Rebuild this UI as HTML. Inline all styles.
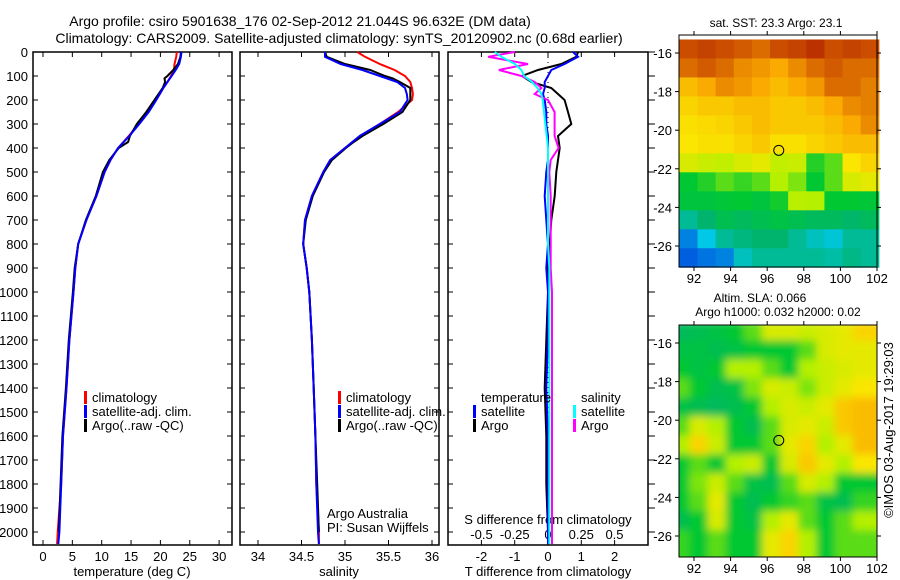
<!DOCTYPE html>
<html><head><meta charset="utf-8"><style>
body{margin:0;background:#fff}
svg{display:block;font-family:"Liberation Sans",sans-serif}
text{fill:#000}
</style></head><body>
<svg id="c" width="900" height="580" viewBox="0 0 900 580">
<text x="300" y="26" font-size="14" text-anchor="middle">Argo profile: csiro 5901638_176 02-Sep-2012 21.044S 96.632E (DM data)</text>
<text x="339" y="43" font-size="14" text-anchor="middle">Climatology: CARS2009. Satellite-adjusted climatology: synTS_20120902.nc (0.68d earlier)</text>
</svg>
<script>
const depths=[0,20,50,75,100,125,150,175,200,250,300,350,400,450,500,600,700,800,900,1000,1200,1400,1600,1800,2000,2050];
const tempClim=[22.8,22.7,22.4,22.3,21.8,21.2,20.5,19.9,19.2,17.9,16.3,14.6,12.8,11.5,10.5,9.1,7.4,6.0,5.5,5.2,4.5,4.0,3.4,3.1,2.5,2.4];
const tempSat=[23.6,23.5,23.2,22.6,21.9,21.2,20.5,19.9,19.3,18.0,16.4,14.7,12.8,11.5,10.5,9.1,7.4,6.0,5.5,5.2,4.5,4.0,3.4,3.1,2.8,2.6];
const argoDepths=[0,20,50,75,100,110,125,150,200,250,300,350,375,400,450,500,600,700,800,900,1000,1200,1400,1600,1800,2000];
const tempArgo=[23.5,23.4,23.0,22.2,21.2,20.7,20.8,20.4,19.0,17.6,16.0,14.8,14.5,12.9,11.3,10.2,9.0,7.3,6.0,5.4,5.1,4.4,3.9,3.3,3.0,2.7];
const salClim=[35.14,35.23,35.40,35.57,35.69,35.75,35.77,35.78,35.77,35.61,35.40,35.17,35.0,34.83,34.75,34.62,34.54,34.52,34.56,34.59,34.62,34.64,34.66,34.67,34.70,34.70];
const salSat=[34.77,34.77,34.95,35.20,35.40,35.60,35.69,35.71,35.72,35.63,35.40,35.17,35.0,34.83,34.75,34.62,34.54,34.52,34.56,34.59,34.62,34.64,34.66,34.67,34.69,34.70];
const salArgo=[34.77,34.79,35.0,35.29,35.46,35.55,35.63,35.75,35.75,35.66,35.44,35.20,35.10,35.01,34.85,34.76,34.63,34.55,34.52,34.56,34.59,34.62,34.64,34.66,34.68,34.70];
const tDiffSat=[0.75,0.9,0.5,0.1,0.0,-0.1,-0.1,-0.15,-0.1,-0.05,-0.05,0,0,0,-0.05,-0.1,-0.05,0,-0.05,0,0,-0.05,0,0,0,0];
const tDiffArgo=[0.9,0.85,0.4,-0.3,-0.78,-0.5,0.1,0.3,0.5,0.6,0.7,0.3,0.35,0.3,0.25,0.2,0.1,0.05,0,0,-0.05,-0.1,-0.05,-0.05,0,0];
const sDiffSat=[-0.4,-0.35,-0.25,-0.2,-0.18,-0.12,-0.08,-0.05,-0.04,-0.03,-0.02,-0.01,0,0,0,0,0,0,0.01,0.01,0.01,0.01,0.01,0.01,0.01,0.01];
const sDiffArgo=[-0.25,-0.45,-0.15,-0.37,-0.2,-0.1,-0.05,-0.1,0,0.05,0.05,0.05,0.08,0.02,0.01,0.02,0.02,0.02,0.02,0.03,0.03,0.03,0.03,0.03,0.03,0.03];
const depthTicks=[0,100,200,300,400,500,600,700,800,900,1000,1100,1200,1300,1400,1500,1600,1700,1800,1900,2000];
const tempTicks=[0,5,10,15,20,25,30];
const salTicks=[34,34.5,35,35.5,36];
const tDiffTicks=[-2,-1,0,1,2];
const sDiffTicks=[-0.5,-0.25,0,0.25,0.5];
const sDiffTickLabels=["-0.5","-0.25","0","0.25","0.5"];
const lonTicks=[92,94,96,98,100,102];
const latTicks=[-16,-18,-20,-22,-24,-26];
const argoLon=96.632, argoLat=-21.044;
const sstGrid=[
[0.9,0.92,0.9,0.88,0.85,0.9,0.92,0.95,0.9,0.92,0.9],
[0.85,0.88,0.85,0.8,0.78,0.75,0.8,0.85,0.88,0.85,0.85],
[0.72,0.75,0.8,0.78,0.75,0.72,0.75,0.78,0.85,0.85,0.82],
[0.68,0.7,0.7,0.72,0.72,0.7,0.7,0.72,0.75,0.8,0.82],
[0.66,0.67,0.68,0.7,0.72,0.7,0.7,0.7,0.72,0.75,0.8],
[0.65,0.66,0.66,0.68,0.7,0.66,0.66,0.68,0.7,0.72,0.72],
[0.6,0.58,0.57,0.6,0.62,0.57,0.58,0.47,0.5,0.65,0.68],
[0.45,0.47,0.5,0.48,0.5,0.55,0.52,0.45,0.5,0.6,0.62],
[0.43,0.43,0.44,0.45,0.43,0.46,0.56,0.55,0.45,0.45,0.44],
[0.3,0.35,0.4,0.38,0.4,0.42,0.4,0.38,0.38,0.36,0.38],
[0.1,0.2,0.3,0.33,0.35,0.35,0.3,0.25,0.22,0.3,0.3],
[0.05,0.08,0.1,0.25,0.3,0.3,0.3,0.3,0.28,0.32,0.3]];
const slaGrid=[
[0.38,0.4,0.42,0.45,0.5,0.6,0.6,0.58,0.6,0.62,0.68],
[0.42,0.42,0.4,0.42,0.45,0.45,0.45,0.5,0.6,0.62,0.62],
[0.45,0.42,0.45,0.55,0.55,0.5,0.45,0.55,0.58,0.6,0.62],
[0.5,0.45,0.4,0.42,0.52,0.6,0.58,0.52,0.58,0.62,0.65],
[0.42,0.4,0.38,0.4,0.45,0.55,0.6,0.58,0.62,0.7,0.72],
[0.5,0.6,0.55,0.45,0.4,0.5,0.6,0.62,0.58,0.7,0.72],
[0.55,0.68,0.58,0.45,0.45,0.5,0.62,0.68,0.55,0.62,0.72],
[0.45,0.5,0.45,0.55,0.58,0.45,0.6,0.7,0.62,0.55,0.65],
[0.45,0.52,0.58,0.5,0.42,0.4,0.5,0.6,0.55,0.45,0.45],
[0.45,0.5,0.62,0.45,0.4,0.45,0.48,0.5,0.42,0.4,0.48],
[0.4,0.45,0.6,0.45,0.42,0.55,0.62,0.5,0.45,0.5,0.55],
[0.48,0.45,0.5,0.45,0.45,0.62,0.68,0.55,0.45,0.5,0.5]];

const svg=document.getElementById('c');
const NS='http://www.w3.org/2000/svg';
function mk(tag,attrs,parent){const e=document.createElementNS(NS,tag);for(const k in attrs)e.setAttribute(k,attrs[k]);(parent||svg).appendChild(e);return e;}
const y=d=>52+d*0.24;
const xT=v=>43+v*5.87, xS=v=>258+(v-34)*87, xTd=v=>548+v*33.3, xSd=v=>548+v*133;
const TOP=52,BOT=545;

function panel(x0,x1,name){
  const r=mk('rect',{x:x0,y:TOP,width:x1-x0,height:BOT-TOP,fill:'none',stroke:'#000','stroke-width':1.5});
  
  
}
function line(xs,ds,fx,color,name){
  const p=xs.map((v,i)=>fx(v).toFixed(1)+','+y(ds[i]).toFixed(1)).join(' ');
  const e=mk('polyline',{points:p,fill:'none',stroke:color,'stroke-width':2});
  
  
}
function txt(x,yy,s,size,anchor,name){
  const t=mk('text',{x:x,y:yy,'font-size':size,'text-anchor':anchor||'start'});t.textContent=s;
  
  
  return t;
}
panel(33,232,'temperature-panel');panel(240,439,'salinity-panel');panel(448,648,'difference-panel');
depthTicks.forEach(d=>{
  [[33,38],[227,232],[240,245],[434,439],[448,453],[648,655]].forEach(s=>mk('line',{x1:s[0],x2:s[1],y1:y(d),y2:y(d),stroke:'#000'}));
  txt(28,y(d)+5,String(d),13,'end','depth-tick-label');
});
tempTicks.forEach(v=>{mk('line',{x1:xT(v),x2:xT(v),y1:BOT,y2:BOT-5,stroke:'#000'});mk('line',{x1:xT(v),x2:xT(v),y1:TOP,y2:TOP+5,stroke:'#000'});txt(xT(v),561,String(v),13,'middle','temp-tick-label');});
salTicks.forEach(v=>{mk('line',{x1:xS(v),x2:xS(v),y1:BOT,y2:BOT-5,stroke:'#000'});mk('line',{x1:xS(v),x2:xS(v),y1:TOP,y2:TOP+5,stroke:'#000'});txt(xS(v),561,String(v),13,'middle','sal-tick-label');});
tDiffTicks.forEach(v=>{mk('line',{x1:xTd(v),x2:xTd(v),y1:BOT,y2:BOT-5,stroke:'#000'});mk('line',{x1:xTd(v),x2:xTd(v),y1:TOP,y2:TOP+5,stroke:'#000'});txt(xTd(v),561,String(v),13,'middle','tdiff-tick-label');});
sDiffTicks.forEach((v,i)=>{txt(xSd(v),539,sDiffTickLabels[i],13,'middle','sdiff-tick-label');});
mk('line',{x1:548,x2:548,y1:TOP,y2:BOT,stroke:'#000','stroke-dasharray':'1,4'});
txt(132,576,'temperature (deg C)',13,'middle','temperature-axis-title');
txt(339,576,'salinity',13,'middle','salinity-axis-title');
txt(548,576,'T difference from climatology',13,'middle','tdiff-axis-title');
txt(548,524,'S difference from climatology',13,'middle','sdiff-axis-title');
line(tempClim,depths,xT,'#f00','temp-climatology-line');
line(tempArgo,argoDepths,xT,'#000','temp-argo-line');
line(tempSat,depths,xT,'#00f','temp-satellite-line');
line(salClim,depths,xS,'#f00','sal-climatology-line');
line(salArgo,argoDepths,xS,'#000','sal-argo-line');
line(salSat,depths,xS,'#00f','sal-satellite-line');
line(tDiffArgo,depths,xTd,'#000','tdiff-argo-line');
line(tDiffSat,depths,xTd,'#00f','tdiff-satellite-line');
line(sDiffArgo,depths,xSd,'#f0f','sdiff-argo-line');
line(sDiffSat,depths,xSd,'#0ff','sdiff-satellite-line');
function leg(x,yy,color,label,name){
  const g=mk('g',{});
  
  
  mk('rect',{x:x,y:yy-11,width:3,height:13,fill:color},g);
  const t=mk('text',{x:x+8,y:yy,'font-size':13},g);t.textContent=label;
}
[[84,'#f00','climatology'],[84,'#00f','satellite-adj. clim.'],[84,'#000','Argo(..raw -QC)']].forEach((a,i)=>leg(a[0],402+i*14,a[1],a[2],'temp-legend-entry'));
[[338,'#f00','climatology'],[338,'#00f','satellite-adj. clim.'],[338,'#000','Argo(..raw -QC)']].forEach((a,i)=>leg(a[0],402+i*14,a[1],a[2],'sal-legend-entry'));
txt(481,402,'temperature',13,'start','diff-legend-temperature-heading');
txt(581,402,'salinity',13,'start','diff-legend-salinity-heading');
leg(473,416,'#00f','satellite','diff-legend-t-satellite');
leg(473,430,'#000','Argo','diff-legend-t-argo');
leg(573,416,'#0ff','satellite','diff-legend-s-satellite');
leg(573,430,'#f0f','Argo','diff-legend-s-argo');
txt(327,518,'Argo Australia',13,'start','argo-australia-label');
txt(327,532,'PI: Susan Wijffels',13,'start','pi-label');
const stops=[[0,[0,60,220]],[0.2,[0,200,230]],[0.35,[0,180,110]],[0.45,[0,200,50]],[0.55,[180,240,0]],[0.65,[250,230,0]],[0.75,[250,170,0]],[0.88,[210,90,0]],[1,[170,20,0]]];
function cmap(v){v=Math.max(0,Math.min(1,v));for(let i=1;i<stops.length;i++){if(v<=stops[i][0]){const a=stops[i-1],b=stops[i],t=(v-a[0])/(b[0]-a[0]);return 'rgb('+a[1].map((c,k)=>Math.round(c+(b[1][k]-c)*t)).join(',')+')';}}return 'rgb(170,20,0)';}
mk('defs',{}).innerHTML='<filter id="bl" x="0" y="0" width="1" height="1"><feGaussianBlur stdDeviation="4"/></filter><clipPath id="cp2"><rect x="679" y="325" width="198" height="232"/></clipPath>';
function map(grid,top,name,blur){
  const lon0=91.2,lon1=102.1,lat0=-15.3,lat1=-27.1;
  const mx=v=>694+(v-92)*18.3, my=v=>top+18+(-16-v)*19.3;
  const g=mk('g',blur?{'clip-path':'url(#cp2)'}:{});
  
  
  const inner=mk('g',blur?{filter:'url(#bl)'}:{},g);
  const nr=grid.length,nc=grid[0].length;
  const dLon=(lon1-lon0)/nc,dLat=(lat0-lat1)/nr;
  grid.forEach((row,r)=>row.forEach((v,c)=>{
    const x0=mx(lon0+c*dLon),x1=mx(lon0+(c+1)*dLon),y0=my(lat0-r*dLat),y1=my(lat0-(r+1)*dLat);
    const cell=mk('rect',{x:x0-(blur?8:0),y:y0-(blur?8:0),width:x1-x0+(blur?16:0.5),height:y1-y0+(blur?16:0.5),fill:cmap(v)},inner);
    
    
  }));
  mk('rect',{x:679,y:top,width:198,height:232,fill:'none',stroke:'#000'});
  lonTicks.forEach(v=>{mk('line',{x1:mx(v),x2:mx(v),y1:top,y2:top-4,stroke:'#000'});mk('line',{x1:mx(v),x2:mx(v),y1:top+232,y2:top+236,stroke:'#000'});txt(mx(v),top+248,String(v),13,'middle','lon-tick-label');});
  latTicks.forEach(v=>{mk('line',{x1:679,x2:675,y1:my(v),y2:my(v),stroke:'#000'});mk('line',{x1:877,x2:881,y1:my(v),y2:my(v),stroke:'#000'});txt(672,my(v)+5,String(v),13,'end','lat-tick-label');});
  const c=mk('circle',{cx:mx(argoLon),cy:my(argoLat),r:5,fill:'none',stroke:'#000'});
  
  
}
map(sstGrid,35,'sst-map',false);
map(slaGrid,325,'sla-map',true);
txt(776,27,'sat. SST: 23.3 Argo: 23.1',12,'middle','sst-map-title');
txt(760,302,'Altim. SLA: 0.066',12,'middle','sla-map-title');
txt(778,316,'Argo h1000: 0.032 h2000: 0.02',12,'middle','sla-map-subtitle');
const cr=txt(0,0,'©IMOS 03-Aug-2017 19:29:03',13,'middle','copyright-label');
cr.setAttribute('transform','translate(893,430) rotate(-90)');
</script>
</body></html>
